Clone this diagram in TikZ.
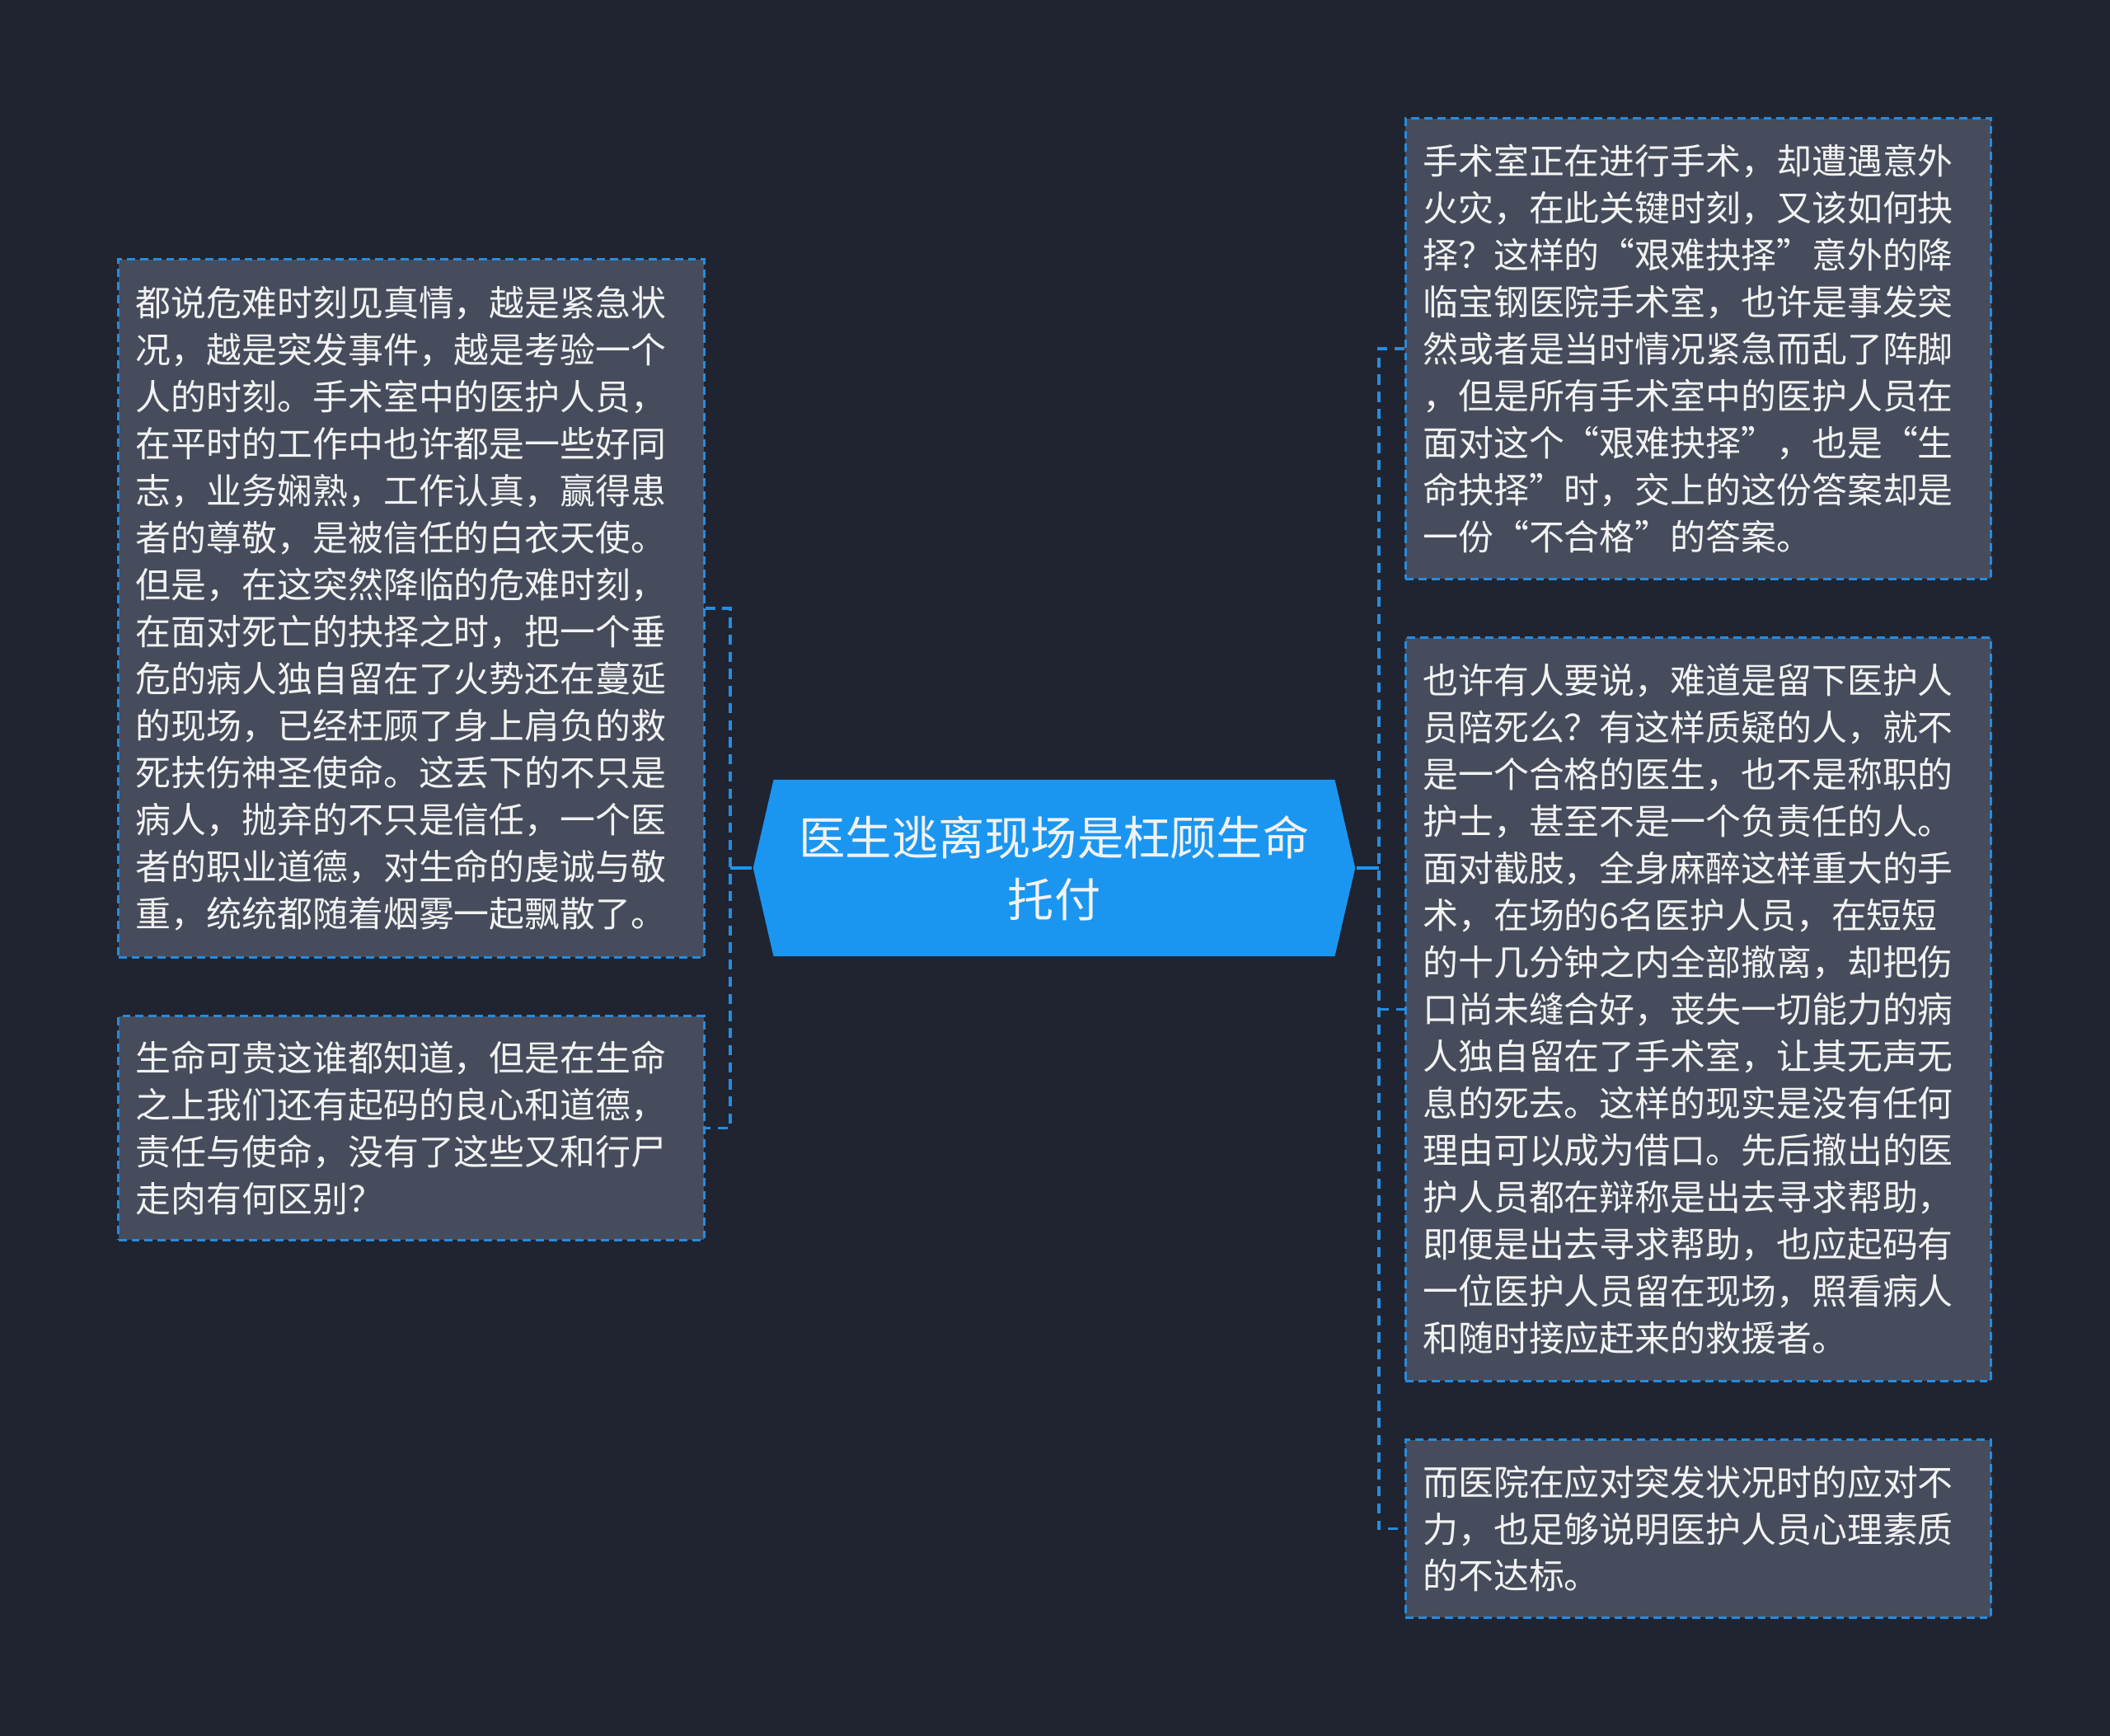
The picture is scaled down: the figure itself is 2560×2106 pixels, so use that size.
\documentclass[tikz,border=0pt]{standalone}
\usepackage{fontspec}
\setmainfont{Noto Sans CJK SC}
\usetikzlibrary{shapes.symbols}

\definecolor{bgdark}{RGB}{32,36,48}
\definecolor{boxgrey}{RGB}{70,76,92}
\definecolor{lineblue}{RGB}{38,140,222}
\definecolor{rootblue}{RGB}{26,150,240}
\definecolor{textwhite}{RGB}{242,242,242}

\tikzset{
    every picture/.style={line width=0.75pt},
    leaf/.style={draw=lineblue, fill=boxgrey, dash pattern=on 2.8pt off 1.7pt, line width=0.85pt,
        text=textwhite, align=left, text width=6.68cm, inner xsep=0.21cm, inner ysep=0pt,
        font=\fontsize{12.2pt}{16.2pt}\selectfont},
    rootnode/.style={shape=signal, signal to=west and east, signal pointer angle=154,
        fill=rootblue, text=textwhite, align=center, minimum width=7.3cm, minimum height=2.14cm,
        inner sep=0pt, font=\fontsize{16pt}{21.3pt}\selectfont},
    dashlink/.style={draw=lineblue, line width=1.1pt, dash pattern=on 3.5pt off 2.4pt},
    solidlink/.style={draw=rootblue, line width=1.1pt}
}

\begin{document}
\begin{tikzpicture}[x=0.01cm, y=-0.01cm]
    \fill[bgdark] (0,0) rectangle (2560,2106);
    \useasboundingbox (0,0) rectangle (2560,2106);

    % centre
    \node[rootnode] (root) at (1279,1053) {医生逃离现场是枉顾生命\\托付};

    % left side
    \node[leaf, minimum height=8.46cm] (l1) at (499,738) {%
都说危难时刻见真情，越是紧急状\\
况，越是突发事件，越是考验一个\\
人的时刻。手术室中的医护人员，\\
在平时的工作中也许都是一些好同\\
志，业务娴熟，工作认真，赢得患\\
者的尊敬，是被信任的白衣天使。\\
但是，在这突然降临的危难时刻，\\
在面对死亡的抉择之时，把一个垂\\
危的病人独自留在了火势还在蔓延\\
的现场，已经枉顾了身上肩负的救\\
死扶伤神圣使命。这丢下的不只是\\
病人，抛弃的不只是信任，一个医\\
者的职业道德，对生命的虔诚与敬\\
重，统统都随着烟雾一起飘散了。};
    \node[leaf, minimum height=2.71cm] (l2) at (499,1368.5) {%
生命可贵这谁都知道，但是在生命\\
之上我们还有起码的良心和道德，\\
责任与使命，没有了这些又和行尸\\
走肉有何区别？};

    % right side
    \node[leaf, minimum height=5.58cm] (r1) at (2060.5,423) {%
手术室正在进行手术，却遭遇意外\\
火灾，在此关键时刻，又该如何抉\\
择？这样的“艰难抉择”意外的降\\
临宝钢医院手术室，也许是事发突\\
然或者是当时情况紧急而乱了阵脚\\
，但是所有手术室中的医护人员在\\
面对这个“艰难抉择”，也是“生\\
命抉择”时，交上的这份答案却是\\
一份“不合格”的答案。};
    \node[leaf, minimum height=9.01cm] (r2) at (2060.5,1224.5) {%
也许有人要说，难道是留下医护人\\
员陪死么？有这样质疑的人，就不\\
是一个合格的医生，也不是称职的\\
护士，甚至不是一个负责任的人。\\
面对截肢，全身麻醉这样重大的手\\
术，在场的6名医护人员，在短短\\
的十几分钟之内全部撤离，却把伤\\
口尚未缝合好，丧失一切能力的病\\
人独自留在了手术室，让其无声无\\
息的死去。这样的现实是没有任何\\
理由可以成为借口。先后撤出的医\\
护人员都在辩称是出去寻求帮助，\\
即便是出去寻求帮助，也应起码有\\
一位医护人员留在现场，照看病人\\
和随时接应赶来的救援者。};
    \node[leaf, minimum height=2.15cm] (r3) at (2060.5,1854.5) {%
而医院在应对突发状况时的应对不\\
力，也足够说明医护人员心理素质\\
的不达标。};

    % connectors
    \coordinate (lbar) at (886,1053);
    \coordinate (rbar) at (1673,1053);
    \draw[solidlink] (root.west) -- (lbar);
    \draw[solidlink] (root.east) -- (rbar);
    \draw[dashlink] (l1.east) -| (lbar) |- (l2.east);
    \draw[dashlink] (r1.west) -| (rbar) |- (r3.west);
    \draw[dashlink] (rbar |- r2.west) -- (r2.west);
\end{tikzpicture}
\end{document}
